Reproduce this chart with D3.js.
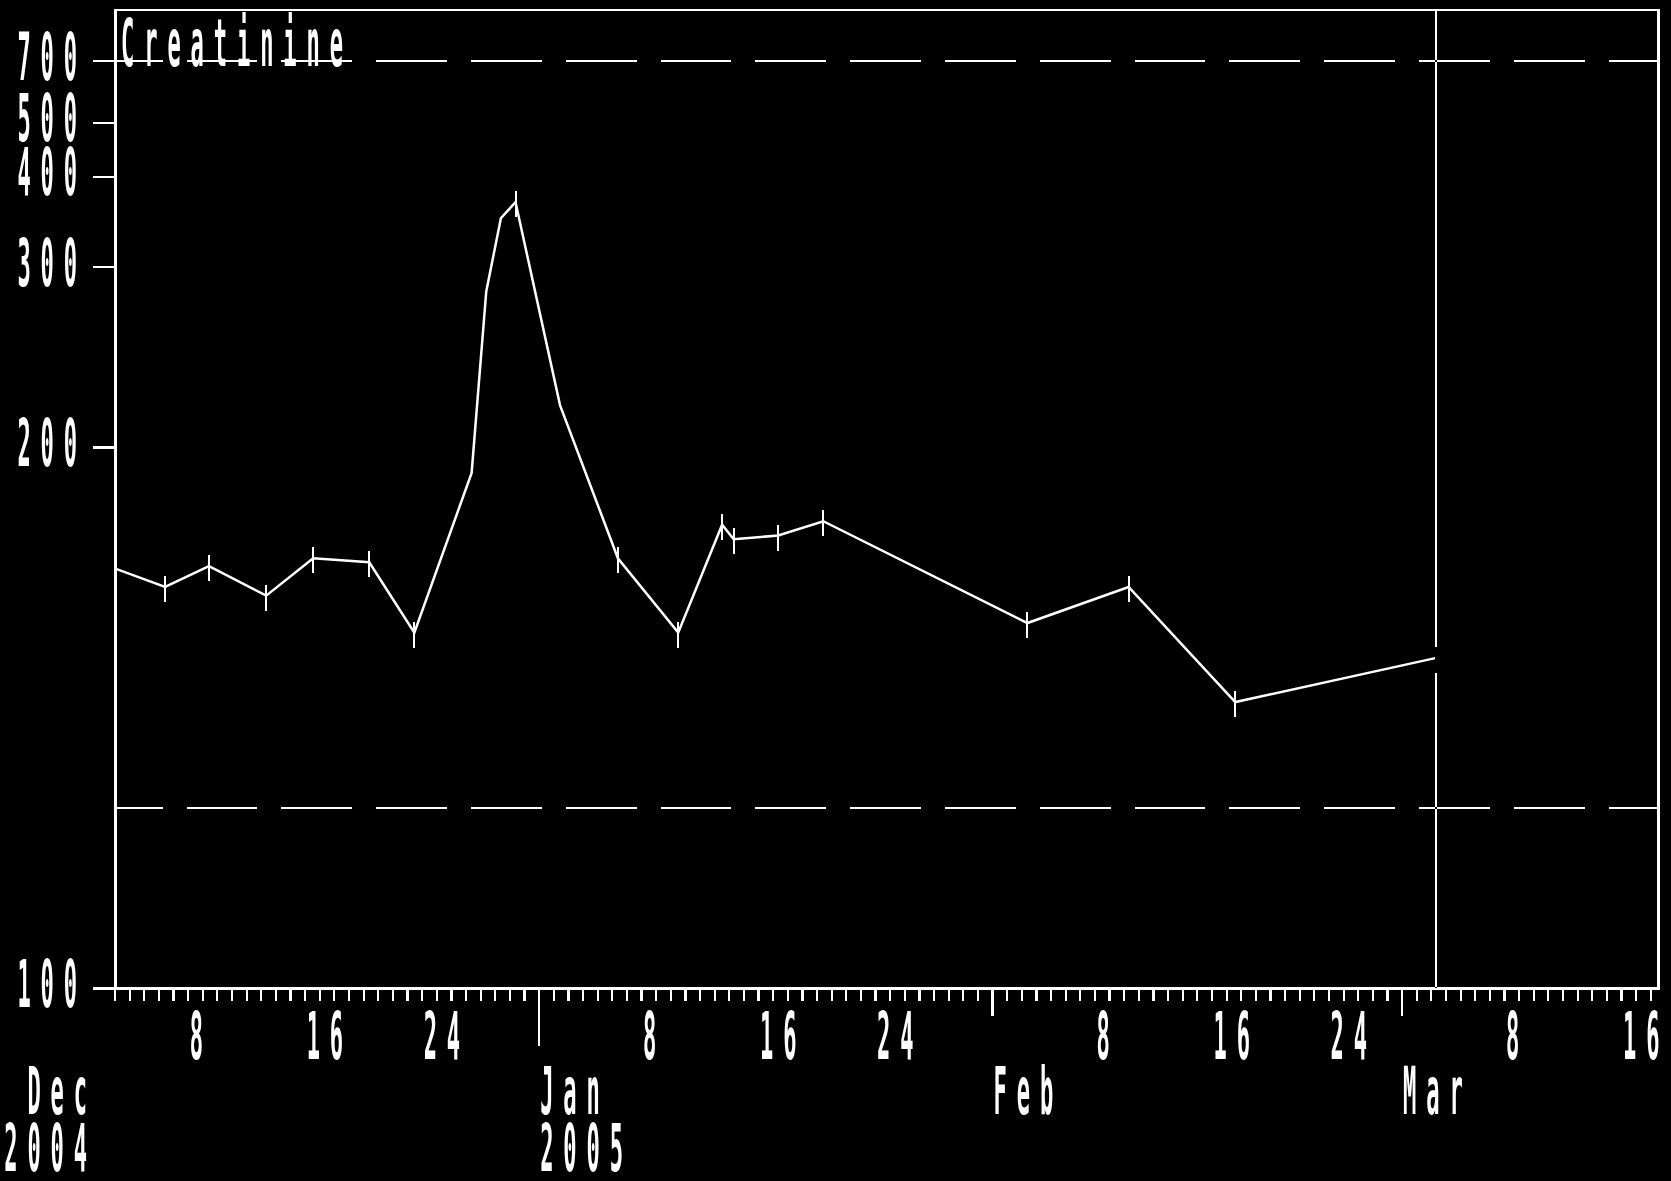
<!DOCTYPE html>
<html>
<head>
<meta charset="utf-8">
<title>Creatinine</title>
<script src="https://cdn.jsdelivr.net/npm/d3@7"></script>
<style>
  html, body { margin: 0; padding: 0; background: #000; }
  svg { display: block; }
  text { font-family: "DejaVu Sans Mono", "Liberation Mono", monospace; fill: #fff; }
</style>
</head>
<body>
<svg id="chart" width="1671" height="1181"></svg>
<script>
// ---- data -------------------------------------------------------------
const title = "Creatinine";

// sample times (UTC) and serum creatinine values
const sampleTimes = [
  "2004-11-30T10:00",
  "2004-12-06T11:00",
  "2004-12-09T11:00",
  "2004-12-13T09:00",
  "2004-12-16T14:00",
  "2004-12-20T10:00",
  "2004-12-23T12:00",
  "2004-12-27T10:00",
  "2004-12-28T10:00",
  "2004-12-29T10:00",
  "2004-12-30T10:00",
  "2005-01-02T11:00",
  "2005-01-06T10:00",
  "2005-01-10T13:00",
  "2005-01-13T13:00",
  "2005-01-14T08:00",
  "2005-01-17T09:00",
  "2005-01-20T11:00",
  "2005-02-03T10:00",
  "2005-02-10T08:00",
  "2005-02-17T15:00",
  "2005-03-03T09:00"
];
const creatinine = [167, 159, 164, 157, 166, 165, 149, 191, 281, 347, 366, 217,
                    166, 149, 175, 171, 172, 176, 151, 159, 136, 144];
// 1 = laboratory result drawn with a cross, 0 = plain vertex
const labMarked = [1, 1, 1, 1, 1, 1, 1, 0, 0, 0, 1, 0,
                   1, 1, 1, 1, 1, 1, 1, 1, 1, 1];

const windowStart = "2004-12-03T00:00";
const windowEnd   = "2005-03-18T13:30";

const yTickValues = [100, 200, 300, 400, 500, 700];
const yDomain = [100, 700];
const referenceLimits = [120, 700];
const dayLabelDays = [8, 16, 24];
const monthNames = ["Jan", "Feb", "Mar", "Apr", "May", "Jun",
                    "Jul", "Aug", "Sep", "Oct", "Nov", "Dec"];

// ---- layout -----------------------------------------------------------
const W = 1671, H = 1181;
const plotL = 115.5, plotR = 1658.5, plotT = 10, plotB = 988.5;
// terminal glyphs: bold mono, squeezed horizontally and stretched vertically
const FS = 26, SX = 0.85, SY = 2.53, PITCH = 23.2;
const LS = PITCH / SX - 0.602 * FS;
const INK = "#fff";

const parse = d3.utcParse("%Y-%m-%dT%H:%M");
const data = sampleTimes.map((t, i) => ({
  date: parse(t), value: creatinine[i], marked: labMarked[i] === 1
}));

const x = d3.scaleUtc()
  .domain([parse(windowStart), parse(windowEnd)])
  .range([114.5, plotR]);

// reciprocal creatinine axis
const y = d3.scalePow().exponent(-1)
  .domain(yDomain)
  .range([plotB, 61]);

const svg = d3.select("#chart");
svg.append("rect").attr("width", W).attr("height", H).attr("fill", "#000");

function termText(parent, tx, baseline, str) {
  return parent.append("text")
    .attr("transform", `translate(${tx},${baseline}) scale(${SX},${SY})`)
    .attr("font-size", FS)
    .attr("font-weight", "bold")
    .style("letter-spacing", LS + "px")
    .text(str);
}

svg.append("clipPath").attr("id", "plotClip")
  .append("rect")
  .attr("x", plotL).attr("y", plotT)
  .attr("width", plotR - plotL).attr("height", plotB - plotT);

// reference limit lines (dash pattern anchored left of the frame)
const dashPhase = 91.8;
svg.append("g").selectAll("line")
  .data(referenceLimits)
  .join("line")
  .attr("x1", plotL).attr("x2", plotR)
  .attr("y1", d => y(d)).attr("y2", d => y(d))
  .attr("stroke", INK).attr("stroke-width", 2)
  .attr("stroke-dasharray", "70.8 24")
  .attr("stroke-dashoffset", plotL - dashPhase)
  .attr("shape-rendering", "crispEdges");

// frame
svg.append("rect")
  .attr("x", plotL).attr("y", plotT)
  .attr("width", plotR - plotL).attr("height", plotB - plotT)
  .attr("fill", "none").attr("stroke", INK).attr("stroke-width", 2.2)
  .attr("shape-rendering", "crispEdges");

// y axis ticks and labels
const yAxis = svg.append("g");
yAxis.selectAll("line")
  .data(yTickValues)
  .join("line")
  .attr("x1", 93).attr("x2", plotL)
  .attr("y1", d => y(d)).attr("y2", d => y(d))
  .attr("stroke", INK).attr("stroke-width", 2.2)
  .attr("shape-rendering", "crispEdges");
const yLabelRight = 87;
yTickValues.forEach(v => {
  const s = String(v);
  termText(yAxis, yLabelRight - s.length * PITCH, y(v) + 18.5, s);
});

// x axis: day, month and year ticks
function tickLayer(interval, size) {
  const g = svg.append("g")
    .attr("transform", `translate(0,${plotB})`)
    .attr("color", INK)
    .call(d3.axisBottom(x).ticks(interval).tickSize(size).tickFormat(""));
  g.select(".domain").remove();
  g.selectAll(".tick line").attr("stroke-width", 2.2).attr("shape-rendering", "crispEdges");
  return g;
}
tickLayer(d3.utcDay.every(1), 12);
tickLayer(d3.utcMonth.every(1), 27);
tickLayer(d3.utcYear.every(1), 57);

// x labels
const [d0, d1] = x.domain();
const months = d3.utcMonths(d3.utcMonth.floor(d0), d1);
const xLabels = svg.append("g");
months.forEach(m => {
  dayLabelDays.forEach(day => {
    const d = new Date(Date.UTC(m.getUTCFullYear(), m.getUTCMonth(), day));
    if (d >= d0 && d <= d1) termText(xLabels, x(d) + 2, 1058.5, String(day));
  });
});
months.forEach((m, i) => {
  const name = monthNames[m.getUTCMonth()];
  const year = String(m.getUTCFullYear());
  const showYear = i === 0 || m.getUTCMonth() === 0;
  if (m < d0) {
    // month that starts before the window: right-aligned left of the frame
    const r = 97;
    termText(xLabels, r - name.length * PITCH, 1113.5, name);
    if (showYear) termText(xLabels, r - year.length * PITCH, 1170.5, year);
  } else {
    termText(xLabels, x(m) + 1.5, 1113.5, name);
    if (showYear) termText(xLabels, x(m) + 1.5, 1170.5, year);
  }
});

// title
termText(svg, 121, 66, title);

// data line and markers
const plot = svg.append("g").attr("clip-path", "url(#plotClip)");
plot.append("path")
  .datum(data)
  .attr("fill", "none")
  .attr("stroke", INK)
  .attr("stroke-width", 2.5)
  .attr("stroke-linejoin", "miter")
  .attr("d", d3.line().x(d => x(d.date)).y(d => y(d.value)));

plot.append("g").selectAll("rect")
  .data(data.filter(d => d.marked))
  .join("rect")
  .attr("x", d => Math.round(x(d.date)) - 1)
  .attr("y", d => Math.round(y(d.value)) - 11)
  .attr("width", 2).attr("height", 26)
  .attr("fill", INK).attr("shape-rendering", "crispEdges");

// cursor at the latest sample, drawn in XOR (difference) mode
const last = data[data.length - 1];
svg.append("rect")
  .attr("x", Math.round(x(last.date)) - 1)
  .attr("y", plotT + 1)
  .attr("width", 2)
  .attr("height", plotB - plotT - 2)
  .attr("fill", INK)
  .attr("shape-rendering", "crispEdges")
  .style("mix-blend-mode", "difference");
</script>
</body>
</html>
